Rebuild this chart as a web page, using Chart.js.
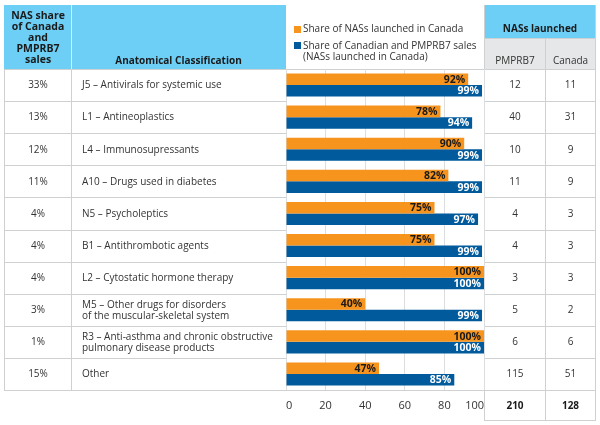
<!DOCTYPE html>
<html>
<head>
<meta charset="utf-8">
<script src="https://cdn.jsdelivr.net/npm/chart.js@4"></script>
<style>
  html, body { margin: 0; padding: 0; background: #ffffff; }
  #wrap { width: 600px; height: 425px; }
</style>
</head>
<body>
<div id="wrap"><canvas id="c" width="600" height="425"></canvas></div>
<script>
// ---- Data ----
const categories = [
  "J5 – Antivirals for systemic use",
  "L1 – Antineoplastics",
  "L4 – Immunosupressants",
  "A10 – Drugs used in diabetes",
  "N5 – Psycholeptics",
  "B1 – Antithrombotic agents",
  "L2 – Cytostatic hormone therapy",
  ["M5 – Other drugs for disorders", "of the muscular-skeletal system"],
  ["R3 – Anti-asthma and chronic obstructive", "pulmonary disease products"],
  "Other"
];
const shareLaunched = [92, 78, 90, 82, 75, 75, 100, 40, 100, 47];
const shareSales = [99, 94, 99, 99, 97, 99, 100, 99, 100, 85];
const nasShare = ["33%", "13%", "12%", "11%", "4%", "4%", "4%", "3%", "1%", "15%"];
const launchedPMPRB7 = [12, 40, 10, 11, 4, 4, 3, 5, 6, 115];
const launchedCanada = [11, 31, 9, 9, 3, 3, 3, 2, 6, 51];
const totals = [210, 128];
const xTicks = [0, 20, 40, 60, 80, 100];
const seriesNames = ["Share of NASs launched in Canada", ["Share of Canadian and PMPRB7 sales", "(NASs launched in Canada)"]];
const headerLeft = ["NAS share", "of Canada", "and", "PMPRB7", "sales"];
const headerClass = "Anatomical Classification";
const headerLaunched = "NASs launched";
const headerCols = ["PMPRB7", "Canada"];

// ---- Style ----
const FONT = "'Open Sans', 'Liberation Sans', sans-serif";
const ORANGE = "#F7941D";
const BLUE = "#005A9C";
const HEAD_BLUE = "#6DCFF6";
const HEAD_GRAY = "#E6E7E8";
const LINE = "#cfd0d2";
const TEXT = "#333333";

const tablePlugin = {
  id: "tablePlugin",
  beforeDraw(chart) {
    const ctx = chart.ctx;
    const ca = chart.chartArea;
    const n = categories.length;
    const rowH = (ca.bottom - ca.top) / n;
    const L0 = 4, L1 = 71.5, L2 = ca.left;
    const R0 = ca.right + 0.5, R1 = 545.5, R2 = 595.5;
    const top = 5;
    ctx.save();
    ctx.fillStyle = HEAD_BLUE;
    ctx.fillRect(L0, top, L2 - L0, ca.top - top);
    ctx.fillRect(R0, top, R2 - R0 + 0.5, 38 - top);
    ctx.fillStyle = HEAD_GRAY;
    ctx.fillRect(R0, 38, R2 - R0 + 0.5, ca.top - 38);
    ctx.strokeStyle = "rgba(255,255,255,0.7)";
    ctx.lineWidth = 1;
    ctx.beginPath();
    ctx.moveTo(L1, top); ctx.lineTo(L1, ca.top);
    ctx.stroke();

    ctx.strokeStyle = LINE;
    ctx.beginPath();
    ctx.moveTo(L0 + 0.5, ca.top); ctx.lineTo(L0 + 0.5, ca.bottom);
    ctx.moveTo(L1, ca.top); ctx.lineTo(L1, ca.bottom);
    for (let i = 0; i <= n; i++) {
      const y = Math.round(ca.top + i * rowH) + 0.5;
      ctx.moveTo(L0, y); ctx.lineTo(L2, y);
      ctx.moveTo(R0, y); ctx.lineTo(R2, y);
    }
    ctx.moveTo(L2, ca.top + 0.5); ctx.lineTo(R0, ca.top + 0.5);
    ctx.moveTo(R0, top); ctx.lineTo(R0, 421);
    ctx.moveTo(R2, top); ctx.lineTo(R2, 421);
    ctx.moveTo(R1, 38); ctx.lineTo(R1, 421);
    ctx.moveTo(R0, 38.5); ctx.lineTo(R2, 38.5);
    ctx.moveTo(R0, 420.5); ctx.lineTo(R2, 420.5);
    ctx.stroke();
    ctx.restore();
  },
  afterDraw(chart) {
    const ctx = chart.ctx;
    const ca = chart.chartArea;
    const yScale = chart.scales.y;
    const c0 = 38, c1 = 82;
    const R0 = ca.right + 0.5, R1 = 545.5, R2 = 595.5;
    const p1 = (R0 + R1) / 2, p2 = (R1 + R2) / 2;
    ctx.save();
    ctx.textBaseline = "middle";
    ctx.fillStyle = "#1a1a1a";
    ctx.font = "bold 10.5px " + FONT;
    ctx.textAlign = "center";
    headerLeft.forEach((t, i) => ctx.fillText(t, c0, 16.5 + i * 11));
    ctx.font = "bold 10px " + FONT;
    ctx.fillText(headerClass, 178.5, 61);
    ctx.fillText(headerLaunched, (R0 + R2) / 2, 29);
    ctx.font = "10px " + FONT;
    ctx.fillStyle = TEXT;
    ctx.fillText(headerCols[0], p1, 61);
    ctx.fillText(headerCols[1], p2, 61);

    // legend
    ctx.textAlign = "left";
    ctx.font = "10px " + FONT;
    ctx.fillStyle = ORANGE;
    ctx.fillRect(294, 26, 7, 7);
    ctx.fillStyle = BLUE;
    ctx.fillRect(294, 42, 7, 7);
    ctx.fillStyle = TEXT;
    ctx.fillText(seriesNames[0], 303, 29.5);
    ctx.fillText(seriesNames[1][0], 303, 46);
    ctx.fillText(seriesNames[1][1], 303, 57);

    // rows
    ctx.font = "10px " + FONT;
    categories.forEach((cat, i) => {
      const y = yScale.getPixelForValue(i) + 0.5;
      ctx.textAlign = "center";
      ctx.fillText(nasShare[i], c0, y);
      ctx.fillText(String(launchedPMPRB7[i]), p1, y);
      ctx.fillText(String(launchedCanada[i]), p2, y);
      ctx.textAlign = "left";
      if (Array.isArray(cat)) {
        ctx.fillText(cat[0], c1, y - 5.5);
        ctx.fillText(cat[1], c1, y + 5.5);
      } else {
        ctx.fillText(cat, c1, y);
      }
    });
    ctx.textAlign = "center";
    ctx.font = "bold 10px " + FONT;
    ctx.fillStyle = "#1a1a1a";
    ctx.fillText(String(totals[0]), p1, 406);
    ctx.fillText(String(totals[1]), p2, 406);
    ctx.restore();
  },
  afterDatasetsDraw(chart) {
    const ctx = chart.ctx;
    ctx.save();
    ctx.font = "bold 10.5px " + FONT;
    ctx.textAlign = "right";
    ctx.textBaseline = "middle";
    chart.data.datasets.forEach((ds, di) => {
      const meta = chart.getDatasetMeta(di);
      ctx.fillStyle = di === 0 ? "#1a1a1a" : "#ffffff";
      meta.data.forEach((bar, i) => {
        ctx.fillText(ds.data[i] + "%", bar.x - 3, bar.y + 0.5);
      });
    });
    ctx.restore();
  }
};

new Chart(document.getElementById("c"), {
  type: "bar",
  data: {
    labels: categories,
    datasets: [
      { label: "Share of NASs launched in Canada", data: shareLaunched, backgroundColor: ORANGE, borderWidth: 0 },
      { label: "Share of Canadian and PMPRB7 sales (NASs launched in Canada)", data: shareSales, backgroundColor: BLUE, borderWidth: 0 }
    ]
  },
  options: {
    indexAxis: "y",
    responsive: false,
    devicePixelRatio: 1,
    animation: false,
    layout: { padding: { left: 286, right: 116, top: 69, bottom: 0 } },
    datasets: { bar: { categoryPercentage: 0.72, barPercentage: 1.0 } },
    plugins: { legend: { display: false }, tooltip: { enabled: false } },
    scales: {
      y: { display: false, grid: { display: false } },
      x: {
        min: 0, max: 100,
        afterFit(scale) { scale.height = 35; },
        afterBuildTicks(scale) { scale.ticks = xTicks.map(v => ({ value: v })); },
        grid: { color: "#dcdddf", drawTicks: false, lineWidth: 1 },
        border: { display: true, color: LINE },
        ticks: { align: "inner", padding: 9, color: TEXT, font: { family: FONT, size: 11 } }
      }
    }
  },
  plugins: [tablePlugin]
});
</script>
</body>
</html>
